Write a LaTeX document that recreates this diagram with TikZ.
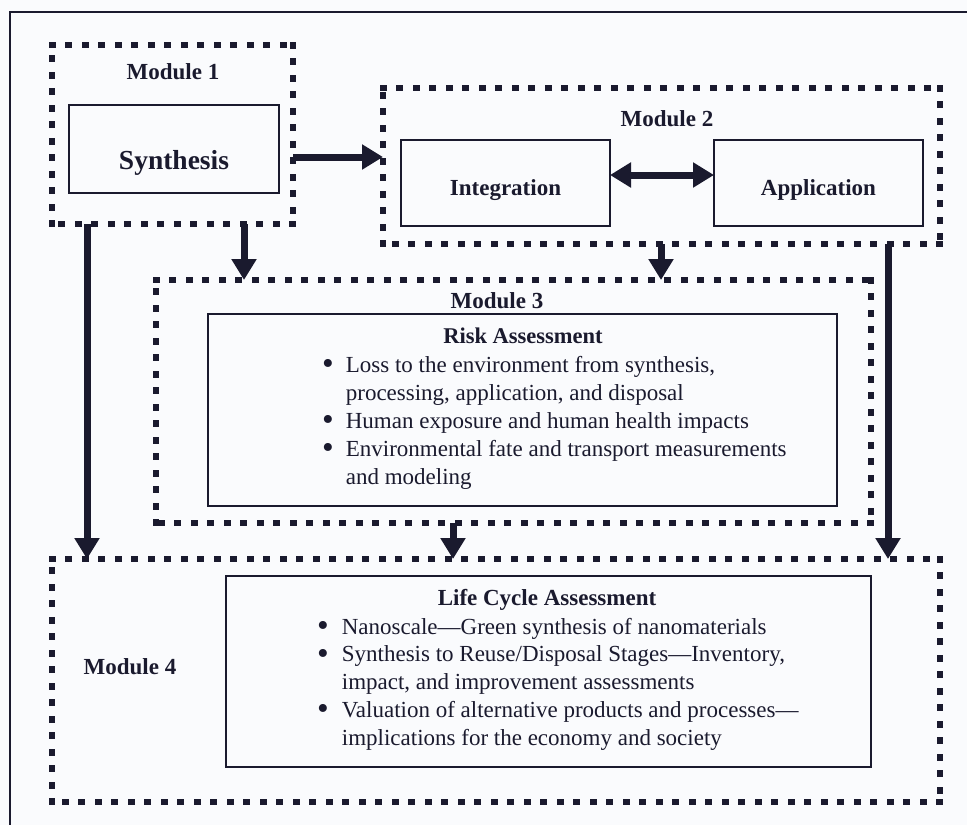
\documentclass[tikz,border=0pt]{standalone}
\usepackage{fontspec}
\setmainfont{Liberation Serif}
\usetikzlibrary{arrows.meta}
\definecolor{dk}{RGB}{26,26,46}
\definecolor{bg}{RGB}{250,251,253}
\newcommand\fsz[2]{\fontsize{#1}{#2}\selectfont}
\newcommand\bul{\smash{\raisebox{-0.1em}{\scalebox{1.45}{\textbullet}}}}
\newcommand\dotframe[1]{%
  \draw[dotline] (#1.north west) -- (#1.north east);
  \draw[dotline] (#1.north east) -- (#1.south east);
  \draw[dotline] (#1.south east) -- (#1.south west);
  \draw[dotline] (#1.south west) -- (#1.north west);}
\begin{document}
\begin{tikzpicture}[x=1pt,y=-1pt,
  dotline/.style={draw=dk, line width=6.5pt, dash pattern=on 0.3pt off 16.2pt, line cap=rect},
  module/.style={inner sep=0pt, outer sep=0pt},
  box/.style={draw=dk, line width=1.8pt, inner sep=0pt, outer sep=0pt},
  arr/.style={draw=dk, line width=7pt, -{Triangle[width=24pt,length=21pt]}},
  darr/.style={draw=dk, line width=7pt, {Triangle[width=24pt,length=21pt]}-{Triangle[width=24pt,length=21pt]}},
  modlabel/.style={font=\bfseries\fsz{23}{27}, text=dk, inner sep=0pt},
  boxlabel/.style={font=\bfseries\fsz{23}{27}, text=dk, inner sep=0pt},
  body/.style={text=dk, inner sep=0pt, anchor=north west}
]
\useasboundingbox[fill=bg] (0,0) rectangle (967,825);
\draw[dk, line width=2.5pt] (10,825) -- (10,12) -- (967,12);

% modules
\node[module, minimum width=241pt, minimum height=179pt] (m1) at (172.5,134.5) {};
\node[module, minimum width=557pt, minimum height=156pt] (m2) at (661.5,166) {};
\node[module, minimum width=715pt, minimum height=243pt] (m3) at (513.5,401.5) {};
\node[module, minimum width=888pt, minimum height=243pt] (m4) at (496,680.5) {};
\dotframe{m1}
\dotframe{m2}
\dotframe{m3}
\dotframe{m4}

% inner boxes
\node[box, minimum width=210pt, minimum height=88pt] (syn) at (174,149) {};
\node[box, minimum width=209pt, minimum height=86pt] (int) at (505.5,183) {};
\node[box, minimum width=209pt, minimum height=86pt] (app) at (818.5,183) {};
\node[box, minimum width=629pt, minimum height=192pt] (risk) at (522.5,410) {};
\node[box, minimum width=645pt, minimum height=191pt] (lca) at (548.5,671.5) {};

% labels
\node[modlabel] (l1) at (173,72) {Module 1};
\node[modlabel] (l2) at (667,118.5) {Module 2};
\node[modlabel] (l3) at (497,301) {Module 3};
\node[modlabel] (l4) at (130,666.5) {Module 4};
\node[boxlabel, font=\bfseries\fsz{27.5}{30}] (tsyn) at (174,162.5) {Synthesis};
\node[boxlabel] (tint) at (505.5,190) {Integration};
\node[boxlabel] (tapp) at (818.5,190) {Application};
\node[boxlabel, font=\bfseries\fsz{22.5}{27}] (trisk) at (523,336) {Risk Assessment};
\node[boxlabel] (tlca) at (547,600) {Life Cycle Assessment};

\node[body, font=\fsz{23}{28}] (rlist) at (322,352.4) {%
\begin{tabular}{@{}l@{\hspace{12pt}}l@{}}
\bul & Loss to the environment from synthesis,\\
 & processing, application, and disposal\\
\bul & Human exposure and human health impacts\\
\bul & Environmental fate and transport measurements\\
 & and modeling
\end{tabular}};

\node[body, font=\fsz{23}{27.75}] (llist) at (317,614.5) {%
\begin{tabular}{@{}l@{\hspace{13pt}}l@{}}
\bul & Nanoscale---Green synthesis of nanomaterials\\
\bul & Synthesis to Reuse/Disposal Stages---Inventory,\\
 & impact, and improvement assessments\\
\bul & Valuation of alternative products and processes---\\
 & implications for the economy and society
\end{tabular}};

% connector guides
\coordinate (xL) at (87,0);
\coordinate (xA) at (244,0);
\coordinate (xB) at (661,0);
\coordinate (xC) at (453,0);
\coordinate (xR) at (888,0);
\coordinate (yA) at (0,157);
\coordinate (yB) at (0,175);

% arrows
\draw[arr] (m1.south -| xL) -- (m4.north -| xL);
\draw[arr] (m1.south -| xA) -- (m3.north -| xA);
\draw[arr] (m2.south -| xB) -- (m3.north -| xB);
\draw[arr] (m3.south -| xC) -- (m4.north -| xC);
\draw[arr] (m2.south -| xR) -- (m4.north -| xR);
\draw[arr] (m1.east |- yA) -- (m2.west |- yA);
\draw[darr] (int.east |- yB) -- (app.west |- yB);
\end{tikzpicture}
\end{document}
